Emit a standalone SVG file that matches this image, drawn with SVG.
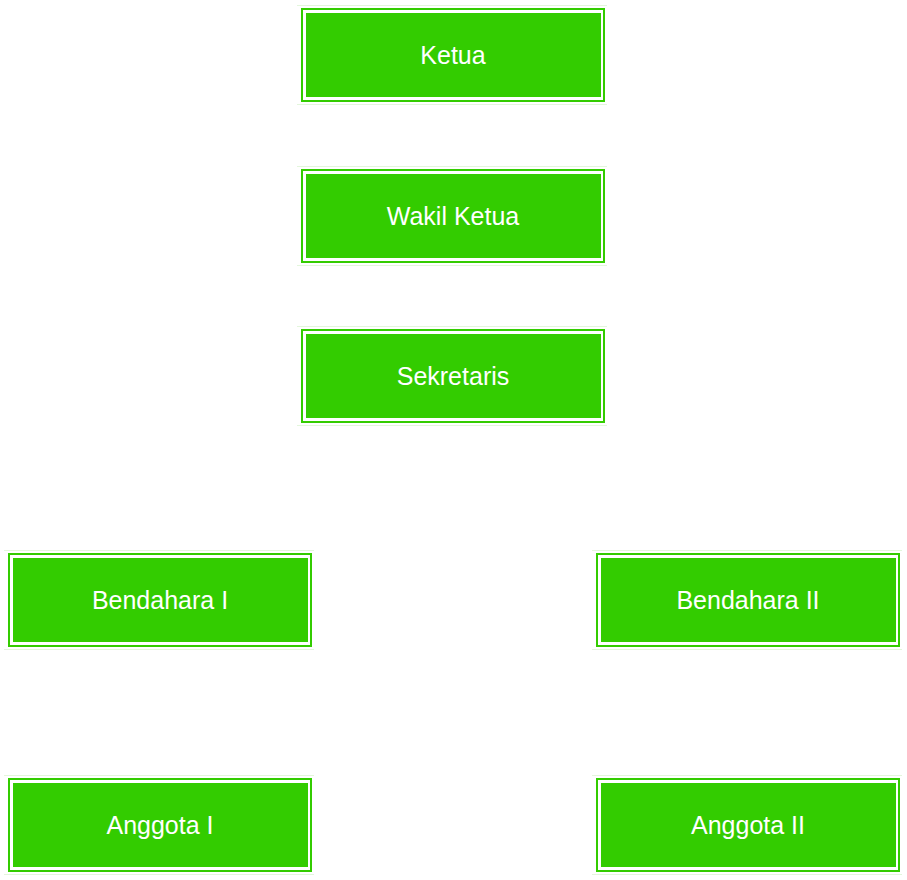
<svg xmlns="http://www.w3.org/2000/svg" width="907" height="880" viewBox="0 0 907 880">
  <style>
    .outer { fill: #ffffff; stroke: #33cc00; stroke-width: 2; }
    .inner { fill: #33cc00; stroke: none; }
    .halo { stroke: #e3f6dc; stroke-width: 1; fill: none; }
    .label { fill: #ffffff; font-family: "Liberation Sans", Arial, sans-serif; font-size: 25px; text-anchor: middle; }
  </style>
  <defs>
    <g id="box">
      <line class="halo" x1="-4" y1="-2.5" x2="306" y2="-2.5"/>
      <line class="halo" x1="-4" y1="96.5" x2="306" y2="96.5"/>
      <rect class="outer" x="1" y="1" width="302" height="92"/>
      <rect class="inner" x="5" y="5" width="295" height="84"/>
    </g>
  </defs>
  <rect width="907" height="880" fill="#ffffff"/>
  <g id="connectors"></g>
  <g id="ketua">
    <use href="#box" x="301" y="8"/>
    <text class="label" x="453" y="63.5">Ketua</text>
  </g>
  <g id="wakil-ketua">
    <use href="#box" x="301" y="169"/>
    <text class="label" x="453" y="224.5">Wakil Ketua</text>
  </g>
  <g id="sekretaris">
    <use href="#box" x="301" y="329"/>
    <text class="label" x="453" y="384.5">Sekretaris</text>
  </g>
  <g id="bendahara-1">
    <use href="#box" x="8" y="553"/>
    <text class="label" x="160" y="608.5">Bendahara I</text>
  </g>
  <g id="bendahara-2">
    <use href="#box" x="596" y="553"/>
    <text class="label" x="748" y="608.5">Bendahara II</text>
  </g>
  <g id="anggota-1">
    <use href="#box" x="8" y="778"/>
    <text class="label" x="160" y="833.5">Anggota I</text>
  </g>
  <g id="anggota-2">
    <use href="#box" x="596" y="778"/>
    <text class="label" x="748" y="833.5">Anggota II</text>
  </g>
</svg>
